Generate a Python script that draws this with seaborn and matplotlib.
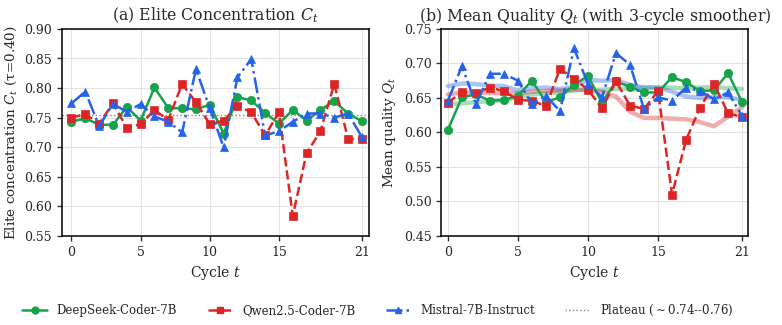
"""
Elite concentration and mean quality over cycles for three code models.
"""


# %% ---- Requirements and constants ------------------------
import matplotlib
matplotlib.use('Agg')
import numpy as np
import seaborn as sns
import matplotlib.pyplot as plt
from matplotlib.lines import Line2D

cycles = list(range(22))

models = ['DeepSeek-Coder-7B', 'Qwen2.5-Coder-7B', 'Mistral-7B-Instruct']

conc_deepseek = [0.743, 0.749, 0.738, 0.738, 0.768, 0.745, 0.801, 0.766, 0.766, 0.764, 0.772,
                 0.723, 0.785, 0.779, 0.758, 0.740, 0.763, 0.745, 0.763, 0.778, 0.757, 0.744]
conc_qwen = [0.750, 0.756, 0.740, 0.774, 0.733, 0.739, 0.763, 0.746, 0.807, 0.776, 0.739,
             0.745, 0.770, 0.759, 0.720, 0.759, 0.584, 0.690, 0.727, 0.807, 0.714, 0.714]
conc_mistral = [0.774, 0.794, 0.736, 0.773, 0.760, 0.773, 0.752, 0.743, 0.725, 0.832, 0.766,
                0.700, 0.818, 0.849, 0.720, 0.727, 0.743, 0.757, 0.757, 0.750, 0.757, 0.717]

qual_deepseek = [0.604, 0.651, 0.655, 0.646, 0.647, 0.653, 0.675, 0.644, 0.651, 0.669, 0.682,
                 0.643, 0.674, 0.666, 0.658, 0.658, 0.680, 0.673, 0.660, 0.661, 0.686, 0.644]
qual_qwen = [0.643, 0.659, 0.657, 0.665, 0.660, 0.647, 0.646, 0.638, 0.692, 0.678, 0.662,
             0.635, 0.674, 0.639, 0.634, 0.660, 0.510, 0.589, 0.636, 0.670, 0.628, 0.622]
qual_mistral = [0.646, 0.696, 0.641, 0.685, 0.685, 0.675, 0.641, 0.653, 0.631, 0.722, 0.670,
                0.651, 0.715, 0.698, 0.634, 0.651, 0.646, 0.665, 0.660, 0.648, 0.658, 0.624]

# 3-cycle smoother curves
smooth_deepseek = [0.641, 0.642, 0.644, 0.645, 0.647, 0.651, 0.655, 0.657, 0.658, 0.661, 0.662,
                   0.662, 0.663, 0.664, 0.665, 0.665, 0.665, 0.664, 0.665, 0.666, 0.664, 0.663]
smooth_qwen = [0.655, 0.658, 0.658, 0.657, 0.657, 0.657, 0.659, 0.660, 0.661, 0.662, 0.662,
               0.659, 0.652, 0.630, 0.621, 0.621, 0.620, 0.619, 0.615, 0.609, 0.623, 0.637]
smooth_mistral = [0.667, 0.671, 0.670, 0.668, 0.667, 0.661, 0.664, 0.665, 0.663, 0.666, 0.676,
                  0.675, 0.676, 0.669, 0.665, 0.665, 0.659, 0.652, 0.650, 0.651, 0.651, 0.647]

plateau_level = 0.755
x_ticks = [0, 5, 10, 15, 21]

colors = ['#16a34a', '#dc2626', '#2563eb']
markers = ['o', 's', '^']
linestyles = ['-', '--', '-.']


# %% ---- Function and class ------------------------
def draw_series(ax, values, k):
    sns.lineplot(x=cycles, y=values, ax=ax, color=colors[k], marker=markers[k],
                 linestyle=linestyles[k], linewidth=1.8, markersize=6,
                 markeredgecolor=colors[k], markeredgewidth=0.5,
                 legend=False, zorder=3)


def draw_smooth(ax, values, k):
    sns.lineplot(x=cycles, y=values, ax=ax, color=colors[k], linewidth=3.2,
                 alpha=0.38, legend=False, zorder=2)


def style_axis(ax):
    ax.set_xticks(x_ticks)
    ax.set_xlabel('Cycle $t$', fontsize=10)
    ax.tick_params(axis='both', labelsize=9, length=3.5, width=1, direction='out',
                   left=True, bottom=True, color='#333333')
    ax.grid(True, color='#e3e3e3', linewidth=0.8)
    for s in ax.spines.values():
        s.set_color('black')
        s.set_linewidth(1.1)


# %% ---- Play ground ------------------------
sns.set_theme(style='whitegrid')
plt.rcParams['font.family'] = ['DejaVu Serif']
plt.rcParams['mathtext.fontset'] = 'dejavuserif'

fig, axes = plt.subplots(1, 2, figsize=(7.82, 3.25), dpi=100)
fig.subplots_adjust(left=0.079, right=0.957, top=0.911, bottom=0.274, wspace=0.236)

ax = axes[0]
for k, vals in enumerate([conc_deepseek, conc_qwen, conc_mistral]):
    draw_series(ax, vals, k)
ax.axhline(plateau_level, color='#888888', linestyle=':', linewidth=1.0, zorder=1)
ax.set_xlim(-0.7, 21.5)
ax.set_ylim(0.55, 0.90)
ax.set_yticks(np.arange(0.55, 0.901, 0.05))
ax.set_ylabel('Elite concentration $C_t$ (τ=0.40)', fontsize=9.7)
ax.set_title('(a) Elite Concentration $C_t$', fontsize=11.3)
style_axis(ax)

ax = axes[1]
for k, vals in enumerate([smooth_deepseek, smooth_qwen, smooth_mistral]):
    draw_smooth(ax, vals, k)
for k, vals in enumerate([qual_deepseek, qual_qwen, qual_mistral]):
    draw_series(ax, vals, k)
ax.set_xlim(-0.47, 21.45)
ax.set_ylim(0.45, 0.75)
ax.set_yticks(np.arange(0.45, 0.751, 0.05))
ax.set_ylabel('Mean quality $Q_t$', fontsize=9.7)
ax.set_title('(b) Mean Quality $Q_t$ (with 3-cycle smoother)', fontsize=11.3)
style_axis(ax)

handles = [Line2D([0], [0], color=colors[k], marker=markers[k], linestyle=linestyles[k],
                  linewidth=1.8, markersize=5, markeredgecolor=colors[k])
           for k in range(3)]
handles.append(Line2D([0], [0], color='#888888', linestyle=':', linewidth=1.0))
labels = models + [r'Plateau ($\sim$0.74--0.76)']
fig.legend(handles, labels, loc='center', bbox_to_anchor=(0.483, 0.045), ncol=4,
           frameon=False, fontsize=8.5, handlelength=2.1, columnspacing=2.6)

fig.savefig('out.png', dpi=100)
